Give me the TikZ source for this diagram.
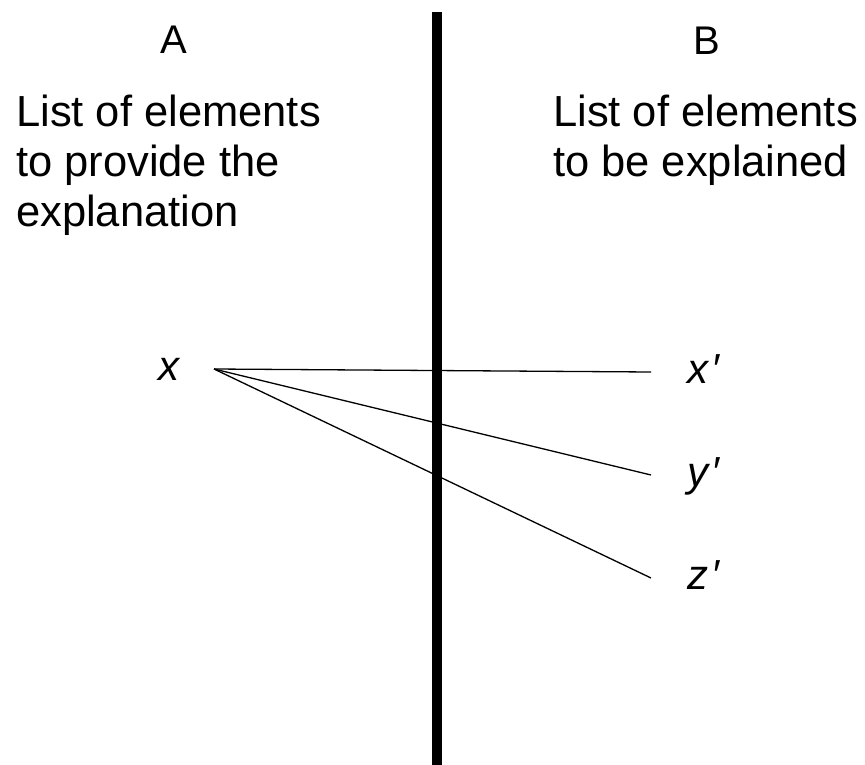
\documentclass[tikz,border=0pt]{standalone}
\usepackage{fontspec}
\setmainfont{Liberation Sans}
\usepackage{tikz}
\usetikzlibrary{positioning}

\begin{document}
\begin{tikzpicture}[x=1pt, y=-1pt,
		head/.style={inner sep=0pt, anchor=base, font=\fontsize{40}{46}\selectfont},
		list/.style={inner sep=0pt, anchor=north west, align=left, font=\fontsize{43.5}{50}\selectfont},
		lab/.style={inner sep=0pt, text height=22pt, text depth=0pt, font=\fontsize{42}{46}\selectfont\itshape},
		ray/.style={line width=1.3pt},
		bar/.style={line width=10pt}]
		\useasboundingbox (0,0) rectangle (865,765);
		% column headings
		\node[head] (colA) at (174,54) {A};
		\node[head] (colB) at (707,55) {B};
		\node[list] (listA) at (16,95) {List of elements\\to provide the\\explanation};
		\node[list] (listB) at (553,95) {List of elements\\to be explained};
		% element x and the elements it explains
		\node[lab] (src) at (169,369) {x};
		\coordinate (fan) at (214,369);
		\foreach \n/\y/\t in {xp/372/x,yp/475/y,zp/578/z} {
			\coordinate (\n end) at (651,\y);
			\node[lab, right=36pt of \n end] (\n) {\t\kern3pt′};
			\draw[ray] (fan) -- (\n end);
		}
		% dividing line
		\draw[bar] (437,12) -- (437,765);
	\end{tikzpicture}
\end{document}
